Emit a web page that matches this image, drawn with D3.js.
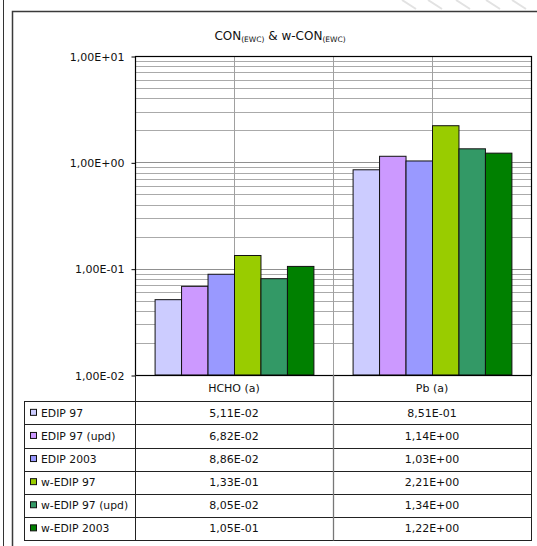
<!DOCTYPE html>
<html>
<head>
<meta charset="utf-8">
<script src="https://cdn.jsdelivr.net/npm/d3@7/dist/d3.min.js"></script>
<style>
  html, body { margin: 0; padding: 0; background: #fff; }
  svg { display: block; font-family: "DejaVu Sans", sans-serif; }
</style>
</head>
<body>
<svg id="chart" width="537" height="546"></svg>
<script>
// Substances shown on the category axis
const categories = ["HCHO (a)", "Pb (a)"];
// Characterisation methods (one bar per method in each category)
const seriesNames = ["EDIP 97", "EDIP 97 (upd)", "EDIP 2003", "w-EDIP 97", "w-EDIP 97 (upd)", "w-EDIP 2003"];
// Values per method for HCHO (a)
const valuesHCHO = [5.11e-2, 6.82e-2, 8.86e-2, 1.33e-1, 8.05e-2, 1.05e-1];
// Values per method for Pb (a)
const valuesPb = [8.51e-1, 1.14e0, 1.03e0, 2.21e0, 1.34e0, 1.22e0];
// Logarithmic axis ticks
const yTicks = [1e-2, 1e-1, 1e0, 1e1];

const seriesColors = ["#ccccff", "#cc99ff", "#9999ff", "#99cc00", "#339966", "#008000"];
const valuesByCategory = [valuesHCHO, valuesPb];

// Scientific format with comma decimal: 5,11E-02
function sci(v) {
  const s = d3.format(".2e")(v);          // e.g. "5.11e-2"
  const [m, e] = s.split("e");
  const sign = e[0] === "-" ? "-" : "+";
  const digits = e.replace(/^[+-]/, "").padStart(2, "0");
  return m.replace(".", ",") + "E" + sign + digits;
}

const svg = d3.select("#chart");

// Outer frame lines
svg.append("line").attr("x1", 3.5).attr("x2", 3.5).attr("y1", 0).attr("y2", 546)
  .attr("stroke", "#333").attr("stroke-width", 1);
svg.append("path").attr("d", "M12.5,546V11.5H537")
  .attr("fill", "none").attr("stroke", "#3a3a3a").attr("stroke-width", 1.5);

// faint diagonal texture above the frame on the right
const stripes = svg.append("g").attr("stroke", "#e2e2e2").attr("stroke-width", 2);
[402, 428, 456, 486, 512].forEach(x0 => {
  stripes.append("line").attr("x1", x0).attr("y1", 0).attr("x2", x0 + 14).attr("y2", 9);
});

const plot = { left: 135, right: 531, top: 56, bottom: 375 };

const y = d3.scaleLog().domain([1e-2, 1e1]).range([plot.bottom, plot.top]);
const x = d3.scaleBand().domain(categories).range([plot.left, plot.right]).padding(0);
const xs = d3.scaleBand().domain(seriesNames).range([0, x.bandwidth()])
  .paddingInner(0).paddingOuter(0.74);

// Title with subscripts
const title = svg.append("text").attr("x", 280).attr("y", 40)
  .attr("text-anchor", "middle").attr("font-size", 12).attr("fill", "#111");
title.append("tspan").text("CON");
title.append("tspan").attr("font-size", 7.5).attr("dy", 1.5).text("(EWC)");
title.append("tspan").attr("dy", -1.5).text(" & w-CON");
title.append("tspan").attr("font-size", 7.5).attr("dy", 1.5).text("(EWC)");

// Horizontal gridlines: minor (2..9) and major decades
const grid = svg.append("g");
const minorVals = [];
[1e-2, 1e-1, 1e0].forEach(d => { for (let k = 2; k <= 9; k++) minorVals.push(d * k); });
grid.selectAll("line.minor").data(minorVals).join("line")
  .attr("x1", plot.left).attr("x2", plot.right)
  .attr("y1", d => Math.round(y(d)) + 0.5).attr("y2", d => Math.round(y(d)) + 0.5)
  .attr("stroke", "#aaaaaa").attr("stroke-width", 1);
grid.selectAll("line.major").data([1e-1, 1e0]).join("line")
  .attr("x1", plot.left).attr("x2", plot.right)
  .attr("y1", d => Math.round(y(d)) + 0.5).attr("y2", d => Math.round(y(d)) + 0.5)
  .attr("stroke", "#909090").attr("stroke-width", 1);

// Vertical gridlines at category centres and boundary
const vLines = [x(categories[0]) + x.bandwidth() / 2, x(categories[1]), x(categories[1]) + x.bandwidth() / 2];
grid.selectAll("line.v").data(vLines).join("line")
  .attr("x1", d => Math.round(d) + 0.5).attr("x2", d => Math.round(d) + 0.5)
  .attr("y1", plot.top).attr("y2", plot.bottom)
  .attr("stroke", "#a0a0a0").attr("stroke-width", 1);

// Bars
const groups = svg.append("g").selectAll("g").data(categories).join("g")
  .attr("transform", d => `translate(${x(d)},0)`);
groups.selectAll("rect").data((c, i) => valuesByCategory[i].map((v, j) => ({ v, s: seriesNames[j], j })))
  .join("rect")
  .attr("x", d => xs(d.s) + 0.5)
  .attr("width", xs.bandwidth())
  .attr("y", d => y(d.v))
  .attr("height", d => plot.bottom - y(d.v))
  .attr("fill", d => seriesColors[d.j])
  .attr("stroke", "#111").attr("stroke-width", 1);

// Plot border
svg.append("rect").attr("x", plot.left + 0.5).attr("y", plot.top + 0.5)
  .attr("width", plot.right - plot.left).attr("height", plot.bottom - plot.top)
  .attr("fill", "none").attr("stroke", "#000").attr("stroke-width", 1.2);

// Y axis
const yAxis = d3.axisLeft(y).tickValues(yTicks).tickFormat(sci).tickSize(4).tickPadding(7);
const ga = svg.append("g").attr("transform", `translate(${plot.left + 0.5},0.5)`).call(yAxis);
ga.select(".domain").remove();
ga.selectAll("line").attr("stroke", "#000");
ga.selectAll("text").attr("font-size", 11).attr("font-family", "DejaVu Sans, sans-serif").attr("fill", "#111");

// Data table
const rowH = 23.1;
const headTop = plot.bottom, headBottom = 401.3;
const tableLeft = 24;
const table = svg.append("g");

// header cells (category names)
table.selectAll("text.head").data(categories).join("text")
  .attr("x", d => x(d) + x.bandwidth() / 2).attr("y", (headTop + headBottom) / 2 + 4)
  .attr("text-anchor", "middle").attr("font-size", 11).attr("fill", "#111").text(d => d);

const tableBottom = headBottom + rowH * seriesNames.length;
// horizontal rules
const hRules = d3.range(seriesNames.length + 1).map(i => headBottom + i * rowH);
table.selectAll("line.h").data(hRules).join("line")
  .attr("x1", tableLeft).attr("x2", plot.right + 1)
  .attr("y1", d => Math.round(d) + 0.5).attr("y2", d => Math.round(d) + 0.5)
  .attr("stroke", "#222").attr("stroke-width", 1);
// vertical rules
table.append("line").attr("x1", tableLeft + 0.5).attr("x2", tableLeft + 0.5)
  .attr("y1", Math.round(headBottom) + 0.5).attr("y2", Math.round(tableBottom) + 0.5)
  .attr("stroke", "#222");
table.append("line").attr("x1", plot.left + 0.5).attr("x2", plot.left + 0.5)
  .attr("y1", headTop).attr("y2", Math.round(tableBottom) + 0.5).attr("stroke", "#222");
table.append("line").attr("x1", plot.right + 0.5).attr("x2", plot.right + 0.5)
  .attr("y1", headTop).attr("y2", Math.round(tableBottom) + 0.5).attr("stroke", "#222");
table.append("line").attr("x1", x(categories[1]) + 0.5).attr("x2", x(categories[1]) + 0.5)
  .attr("y1", headTop).attr("y2", Math.round(tableBottom) + 0.5).attr("stroke", "#777").attr("stroke-width", 1.3);

// rows: legend key, series name, values
const rows = table.selectAll("g.row").data(seriesNames).join("g")
  .attr("transform", (d, i) => `translate(0,${headBottom + i * rowH})`);
rows.append("rect").attr("x", 30.5).attr("y", rowH / 2 - 3.5).attr("width", 6).attr("height", 6)
  .attr("fill", (d, i) => seriesColors[i]).attr("stroke", "#111").attr("stroke-width", 1);
rows.append("text").attr("x", 41).attr("y", rowH / 2 + 4).attr("font-size", 10.8).attr("fill", "#111")
  .text(d => d);
categories.forEach((c, ci) => {
  rows.append("text").attr("x", x(c) + x.bandwidth() / 2).attr("y", rowH / 2 + 4)
    .attr("text-anchor", "middle").attr("font-size", 11).attr("fill", "#111")
    .text((d, i) => sci(valuesByCategory[ci][i]));
});
</script>
</body>
</html>
